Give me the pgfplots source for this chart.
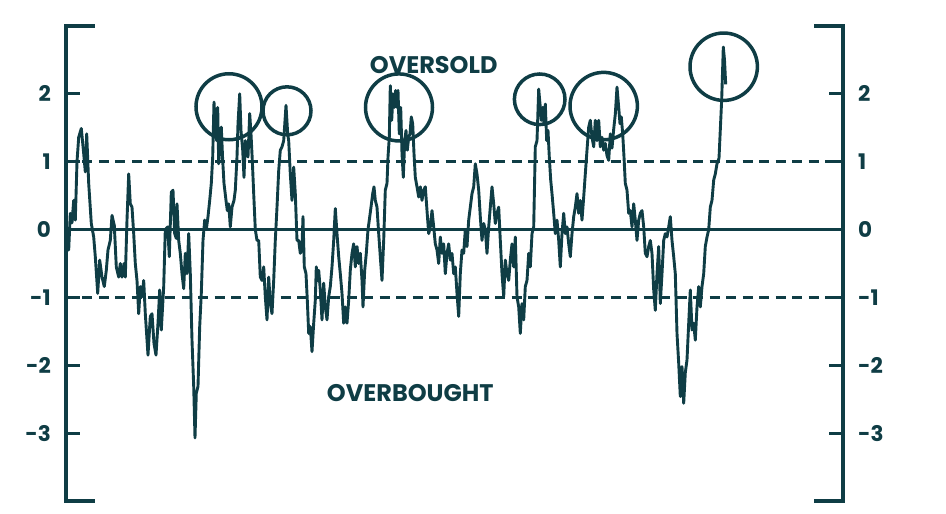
\documentclass[border=0pt]{standalone}
\usepackage{fontspec}
\setmainfont{Poppins}
\usepackage{pgfplots}
\pgfplotsset{compat=1.18}
\definecolor{ink}{HTML}{0F3D45}
\begin{document}
\begin{tikzpicture}
\pgfplotsset{
  base/.style={
    at={(0,0)}, anchor=south west,
    scale only axis, width=777pt, height=475pt,
    xmin=66, xmax=843, ymin=-4, ymax=3,
    clip=false,
    hide x axis,
    axis line style={draw=none},
    ytick={-3,-2,-1,0,1,2},
    tick align=inside,
    major tick length=14pt,
    tick style={ink, line width=3.2pt},
    /pgf/number format/assume math mode=true,
    yticklabel style={font=\bfseries\fontsize{21.5}{21.5}\selectfont, text=ink, inner sep=0pt},
  }
}
\begin{axis}[base, axis y line*=left, yticklabel style={xshift=-15pt}]
\addplot[ink, line width=3.2pt, dash pattern=on 10pt off 6.5pt] coordinates {(66,1) (843,1)};
\addplot[ink, line width=3.2pt, dash pattern=on 10pt off 6.5pt] coordinates {(66,-1) (843,-1)};
\addplot[ink, line width=2.9pt] coordinates {(66,0) (843,0)};
\addplot[ink, line width=2.9pt, line join=round] coordinates {
(67,-0.30) (68.7,-0.30) (70.3,0.24) (72,0.10) (73.7,0.43) (75.3,0.14) (77,1.00) (78.7,1.36)
(81.3,1.49) (83.7,1.12) (85.3,0.85) (86.7,1.41) (88.7,0.68) (91.3,0.09) (93.7,-0.11) (95.3,-0.40)
(97.7,-0.94) (99.7,-0.45) (102,-0.70) (104.3,-0.84) (106.3,-0.60) (108,-0.30) (110.3,-0.16) (112,0.21)
(114.3,0.06) (116.3,-0.55) (118.7,-0.70) (120.3,-0.50) (122,-0.70) (124,-0.50) (125.3,-0.70) (127,0.14)
(128.7,0.82) (130.3,0.38) (132,0.33) (133.7,-0.06) (135.3,-0.50) (137,-0.75) (138.7,-1.24) (140.3,-0.84)
(142,-0.99) (143.7,-0.75) (145.3,-1.24) (148,-1.85) (150.3,-1.28) (152,-1.24) (154,-1.68) (156,-1.85)
(158,-1.38) (159.7,-0.89) (161.3,-1.48) (163.7,-0.84) (165.3,0.00) (167.7,0.04) (169.3,-0.40) (171.3,0.55)
(173,0.58) (174.7,-0.06) (176.3,-0.13) (177,0.38) (178.7,-0.16) (180.3,-0.35) (182,-0.65) (183.7,-0.87)
(185.3,-0.35) (187,-0.65) (188.7,-0.06) (190.3,-0.65) (192,-1.63) (193.7,-2.31) (195,-3.07) (196.3,-2.41)
(198,-2.31) (199.7,-1.43) (201.3,-0.94) (203,-0.16) (204.7,0.14) (206.3,0.00) (208,0.19) (209.7,0.43)
(211.3,0.68) (212.7,1.07) (214,1.88) (215.3,1.51) (216.7,1.31) (217.7,1.80) (218.7,0.97) (220,1.22)
(221.3,1.51) (222.7,1.02) (224,0.68) (226,0.43) (227.3,0.28) (228.7,0.38) (230.3,0.04) (232,0.33)
(234,0.43) (235.3,0.58) (237,1.07) (238,1.56) (239.7,2.00) (241,1.46) (242.7,1.17) (244,0.77)
(245.3,1.31) (246.7,1.12) (248,1.07) (249.7,1.71) (251,1.41) (252.3,1.02) (253.7,0.53) (255.3,0.00)
(257,-0.16) (258.7,-0.16) (260.3,-0.70) (262,-0.75) (263.7,-0.55) (265.3,-0.99) (267,-1.33) (268.7,-0.70)
(270.3,-1.09) (272,-1.24) (273.7,-0.75) (275.3,-0.16) (277,0.33) (278.7,0.87) (280.3,1.17) (282,1.22)
(283.7,1.31) (286,1.83) (287.7,1.41) (288.7,1.31) (290.3,0.82) (292,0.43) (293.7,0.92) (295.3,0.53)
(297,-0.16) (298.7,-0.16) (300.3,-0.35) (302,-0.25) (303,0.19) (304.3,-0.55) (306,-0.65) (307.3,-1.04)
(308.7,-1.53) (310.3,-1.43) (312,-1.80) (313.7,-1.38) (315.3,-1.04) (316.3,-0.55) (317.7,-0.75) (318.7,-0.60)
(320.3,-0.89) (322,-1.33) (323.7,-0.79) (325.3,-1.14) (327,-1.33) (328.7,-0.99) (330.3,-0.84) (332,-0.55)
(333.7,-0.16) (335.3,0.31) (337,-0.06) (338.7,-0.40) (340.3,-0.65) (342,-0.94) (343.7,-1.38) (345.3,-1.14)
(347,-1.38) (348.7,-1.04) (350.3,-0.60) (352,-0.35) (353.7,-0.21) (355.3,-0.55) (357,-0.25) (358.7,-0.50)
(360.3,-0.35) (362,-0.75) (363,-1.14) (364.7,-0.60) (366.3,-0.35) (368,0.00) (369.3,0.14) (371,0.33)
(372.7,0.53) (374,0.63) (375.3,0.43) (377,0.33) (378.7,-0.06) (380.3,-0.40) (382,-0.75) (383.7,-0.16)
(385.3,0.58) (387,0.68) (388,1.07) (389.3,1.36) (390.3,2.12) (391.7,1.61) (393,2.00) (394.3,1.80)
(395.7,2.05) (397,1.80) (398,2.05) (399.3,1.41) (400.7,1.80) (402,1.12) (403.3,0.77) (404.7,1.31)
(406,1.46) (407.3,1.17) (408.7,1.36) (410,1.41) (411.3,1.66) (412.7,1.56) (414,1.12) (415.3,0.77)
(417,0.63) (418.7,0.48) (420.3,0.63) (422,0.43) (423.7,0.58) (425.3,0.63) (427,0.28) (428.7,-0.06)
(430.3,0.04) (432,0.28) (433.7,0.04) (435.3,-0.21) (437,-0.30) (438.7,-0.50) (440.3,-0.11) (442,-0.35)
(443.7,-0.21) (445.3,-0.65) (447,-0.35) (448.7,-0.21) (450.3,-0.45) (452,-0.35) (453.7,-0.65) (455.3,-0.55)
(457,-0.94) (458.7,-1.28) (460.3,-0.65) (462,-0.30) (463.7,-0.35) (465.3,0.00) (467,-0.25) (468.7,0.14)
(470.3,0.33) (472,0.53) (473.7,0.63) (475.3,0.97) (477,0.82) (478.7,0.58) (480.3,0.19) (482,-0.16)
(483.7,0.09) (485.3,0.00) (487,-0.35) (488.7,0.04) (490.3,0.33) (492,0.63) (493.7,0.38) (495.3,0.09)
(497,0.24) (498.7,0.33) (500.3,-0.16) (502,-0.65) (503.7,-0.99) (505.3,-0.45) (507,-0.65) (508.7,-0.75)
(510.3,-0.45) (512,-0.21) (513.7,-0.55) (515.3,-0.11) (517,-0.99) (518.7,-1.14) (520.3,-1.53) (522,-1.09)
(523.7,-1.33) (525.3,-0.84) (527,-0.75) (528.7,-0.35) (530.3,-0.55) (532,-0.06) (533.7,0.04) (535.3,1.22)
(537,1.31) (538.7,2.07) (540.3,1.80) (541.3,1.61) (542.7,1.80) (544,1.56) (545.3,1.85) (546.7,1.31)
(548,1.46) (549.3,1.07) (550.7,0.73) (552,0.53) (553.7,0.24) (555.3,-0.06) (557,0.14) (558.7,-0.16)
(560.3,-0.55) (562,-0.06) (563.7,0.24) (565.3,-0.06) (567,0.04) (568.7,-0.21) (570.3,-0.40) (572,-0.06)
(573.7,0.19) (575.3,0.33) (577,0.53) (578.7,0.24) (580.3,0.43) (582,0.14) (583.7,0.48) (585.3,0.82)
(587,1.17) (588.7,1.51) (590.3,1.61) (592,1.36) (593.7,1.22) (595.3,1.61) (597,1.31) (598.7,1.61)
(600.3,1.22) (602,1.36) (603.7,1.17) (605.3,1.27) (607,1.09) (608.7,1.02) (610.3,1.41) (612,1.20)
(613.7,1.48) (615.3,1.70) (617,2.10) (618.7,1.80) (620,1.56) (621.3,1.66) (622.7,1.41) (624,1.07)
(625.3,0.68) (627,0.58) (628.7,0.24) (630.3,0.28) (632,0.04) (633.7,0.38) (635.3,0.14) (637,-0.16)
(638.7,0.14) (640.3,0.24) (642,0.28) (643.7,0.04) (645.3,-0.35) (647,-0.40) (648.7,-0.25) (650.3,-0.16)
(652,-0.35) (653.7,-0.89) (655.3,-1.19) (657,-0.65) (658.7,-0.25) (660.3,-1.09) (662,-0.65) (663.7,-0.16)
(665.3,-0.06) (667,-0.11) (668.7,0.04) (670.3,0.19) (672,-0.16) (673.7,-0.40) (675.3,-0.65) (677,-1.53)
(678.7,-1.97) (680.3,-2.46) (682,-2.02) (683.7,-2.56) (685.3,-2.11) (687,-1.92) (688.7,-1.38) (690.3,-0.89)
(692,-1.48) (693.7,-1.38) (695.3,-1.63) (697,-1.14) (698.7,-0.84) (700.3,-1.14) (702,-0.84) (703.7,-0.65)
(705.3,-0.25) (707,-0.11) (708.7,0.00) (710.3,0.33) (712,0.43) (713.7,0.73) (715.3,0.82) (717,0.97)
(719,1.05) (721.7,1.92) (723.3,2.69) (724.5,2.50) (725.7,2.14)
};
\draw[ink, line width=3.5pt] (axis cs:229,1.81) circle[radius=33pt];
\draw[ink, line width=3.5pt] (axis cs:287,1.75) circle[radius=24pt];
\draw[ink, line width=3.5pt] (axis cs:399,1.80) circle[radius=33.5pt];
\draw[ink, line width=3.5pt] (axis cs:539.7,1.92) circle[radius=25.3pt];
\draw[ink, line width=3.5pt] (axis cs:603.7,1.82) circle[radius=33.7pt];
\draw[ink, line width=3.5pt] (axis cs:723.7,2.40) circle[radius=33.7pt];
\node[text=ink, font=\bfseries\fontsize{24}{24}\selectfont, inner sep=0pt] at (axis cs:433.7,2.42) {OVERSOLD};
\node[text=ink, font=\bfseries\fontsize{24}{24}\selectfont, inner sep=0pt] at (axis cs:410.3,-2.41) {OVERBOUGHT};
\draw[ink, line width=3.2pt, line join=miter] (axis cs:95,3) -- (axis cs:66,3) -- (axis cs:66,-4) -- (axis cs:95,-4);
\draw[ink, line width=3.2pt, line join=miter] (axis cs:814,3) -- (axis cs:843,3) -- (axis cs:843,-4) -- (axis cs:814,-4);
\end{axis}
\begin{axis}[base, axis y line*=right, yticklabel style={xshift=15pt}]
\end{axis}
\pgfresetboundingbox
\path[use as bounding box] (-66pt,-13pt) rectangle (880pt,501pt);
\end{tikzpicture}
\end{document}
